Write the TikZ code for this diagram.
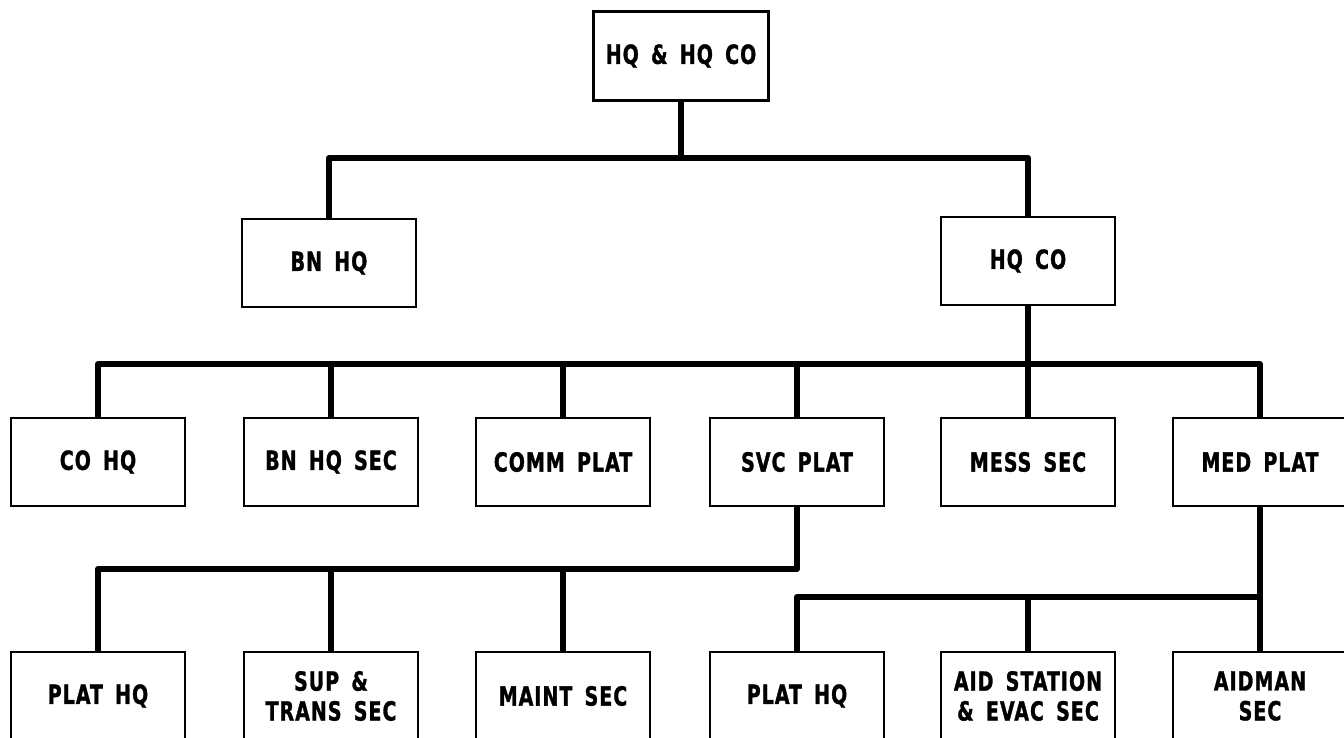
\documentclass[tikz,border=0pt]{standalone}
\usepackage{fontspec}
\usepackage{tikz}
\usetikzlibrary{positioning, calc}
\newfontfamily\orgfont[FakeStretch=0.8, FakeBold=1.2, LetterSpace=4, WordSpace=1.6]{DejaVu Sans Condensed Bold}

\begin{document}
\begin{tikzpicture}[x=0.02cm, y=-0.02cm,
          unit/.style={rectangle, draw=black, line width=1.5pt, fill=white,
                       minimum width=3.48cm, minimum height=1.76cm,
                       inner sep=0pt, align=center,
                       font=\orgfont\fontsize{15}{17}\selectfont},
          link/.style={line width=3.4pt, line join=round}
        ]
        \clip (0,0) rectangle (1344,737);

        % Company level
        \node[unit, minimum width=3.5cm, minimum height=1.78cm] (hhc) at (681,56) {HQ \& HQ CO};
        \node[unit] (bnhq) at (329,263) {BN HQ};
        \node[unit] (hqco) at (1028,261) {HQ CO};
        \coordinate (bus1) at (681,158);
        \draw[link] (hhc) -- (bus1);
        \draw[link] (bnhq.north) |- (bus1) -| (hqco.north);

        % Sections under HQ CO
        \node[unit] (cohq)  at (98,462)   {CO HQ};
        \node[unit] (bnsec) at (331,462)  {BN HQ SEC};
        \node[unit] (comm)  at (563,462)  {COMM PLAT};
        \node[unit] (svc)   at (797,462)  {SVC PLAT};
        \node[unit] (mess)  at (1028,462) {MESS SEC};
        \node[unit] (med)   at (1260,462) {MED PLAT};
        \coordinate (bus2) at (1028,364);
        \draw[link] (hqco) -- (bus2);
        \draw[link] (cohq.north) |- (bus2) -| (med.north);
        \foreach \n in {bnsec,comm,svc,mess} {
          \draw[link] (\n.north) -- (\n.north |- bus2);
        }

        % Service platoon
        \node[unit] (svhq)  at (98,696)  {PLAT HQ};
        \node[unit] (sup)   at (331,696) {SUP \&\\TRANS SEC};
        \node[unit] (maint) at (563,696) {MAINT SEC};
        \coordinate (bus3) at (797,569);
        \draw[link] (svc) -- (bus3) -| (svhq.north);
        \foreach \n in {sup,maint} {
          \draw[link] (\n.north) -- (\n.north |- bus3);
        }

        % Medical platoon
        \node[unit] (mdhq)   at (797,696)  {PLAT HQ};
        \node[unit] (aid)    at (1028,696) {AID STATION\\\& EVAC SEC};
        \node[unit] (aidman) at (1260,696) {AIDMAN\\SEC};
        \coordinate (bus4) at (1260,597);
        \draw[link] (med) -- (aidman);
        \draw[link] (mdhq.north) |- (bus4);
        \draw[link] (aid.north) -- (aid.north |- bus4);
      \end{tikzpicture}
\end{document}
